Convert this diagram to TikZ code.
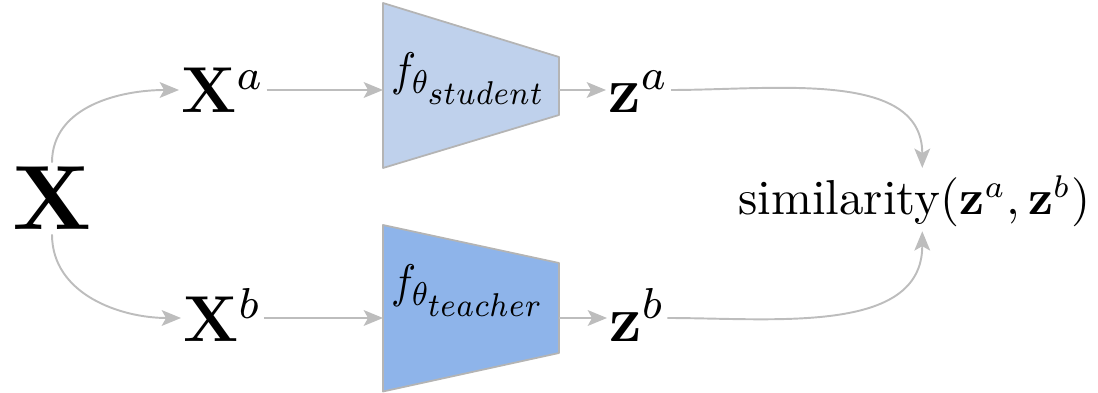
\documentclass[tikz,border=0pt]{standalone}
\usetikzlibrary{arrows.meta}
\DeclareMathSizes{10}{10}{7}{5}
\DeclareMathSizes{12}{12}{8}{6}
\DeclareMathSizes{10.95}{10.95}{7}{5}
\definecolor{simarrow}{HTML}{BDBDBD}
\definecolor{simedge}{HTML}{B4B4B4}
\definecolor{simstudent}{HTML}{BFD1EC}
\definecolor{simteacher}{HTML}{8EB4EA}
\tikzset{
  simtext/.style={inner sep=0.3pt, text=black},
  bigvar/.style={simtext, font=\normalsize, scale=5.2},
  viewvar/.style={simtext, font=\fontsize{12}{14}\selectfont, scale=3.08},
  netlabel/.style={simtext, font=\normalsize, scale=2.68, xscale=0.89},
  simlabel/.style={simtext, font=\fontsize{10.95}{13}\selectfont,
    scale=2.55},
  netbox/.style={draw=simedge, line width=1pt, line join=round},
  simflow/.style={-{Stealth[length=11pt, width=9pt, inset=2.5pt]},
    draw=simarrow, line width=1.1pt},
}

\begin{document}
\begin{tikzpicture}[x=0.02cm, y=0.02cm]
\useasboundingbox (0, 0) rectangle (1098, 392);

% Encoders.
\draw[netbox, fill=simstudent]
  (383, 389) -- (559, 335) -- (559, 277) -- (383, 224) -- cycle;
\draw[netbox, fill=simteacher]
  (383, 167) -- (559, 129) -- (559, 39) -- (383, 0.5) -- cycle;
\coordinate (sin) at (383, 302);
\coordinate (sout) at (559, 302);
\coordinate (tin) at (383, 74);
\coordinate (tout) at (559, 74);
\node[netlabel, anchor=base west] (fs) at (389, 306)
  {$f_{\theta_{\scriptstyle student}}$};
\node[netlabel, anchor=base west] (ft) at (389, 94)
  {$f_{\theta_{\scriptstyle teacher}}$};

% Inputs and embeddings.
\node[bigvar] (x) at (52, 193.5) {$\mathbf{X}$};
\node[viewvar, anchor=base west] (xa) at (179, 279) {$\mathbf{X}^a$};
\node[viewvar, anchor=base west] (xb) at (181, 50) {$\mathbf{X}^b$};
\node[viewvar, anchor=base west] (za) at (606, 279) {$\mathbf{z}^a$};
\node[viewvar, anchor=base west] (zb) at (607, 50) {$\mathbf{z}^b$};
\node[simlabel, anchor=base west] (sim) at (736, 177)
  {similarity$(\mathbf{z}^a, \mathbf{z}^b)$};

% Connectors.
\draw[simflow] (x.north) to[out=90, in=180] (xa.west |- sin);
\draw[simflow] (x.south) to[out=-90, in=180] (xb.west |- tin);
\draw[simflow] (xa.east |- sin) -- (sin);
\draw[simflow] (xb.east |- tin) -- (tin);
\draw[simflow] (sout) -- (za.west |- sout);
\draw[simflow] (tout) -- (zb.west |- tout);
\draw[simflow, shorten >=3pt] (za.east |- sout) to[out=0, in=90]
  ([xshift=4.6pt]sim.north);
\draw[simflow, shorten >=1pt] (zb.east |- tout) to[out=0, in=-90]
  ([xshift=4.6pt]sim.south);

\end{tikzpicture}
\end{document}
